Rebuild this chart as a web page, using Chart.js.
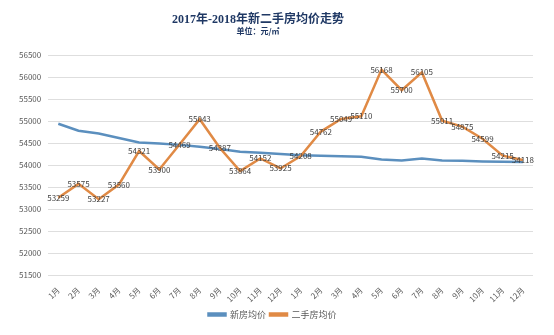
<!DOCTYPE html>
<html lang="zh">
<head>
<meta charset="UTF-8">
<title>2017年-2018年新二手房均价走势</title>
<script src="https://cdn.jsdelivr.net/npm/chart.js"></script>
<style>
    html, body {
        margin: 0;
        padding: 0;
        background: #ffffff;
    }
    .wrap {
        position: relative;
        width: 554px;
        height: 335px;
    }
    .title {
        position: absolute;
        left: 0;
        width: 516px;
        text-align: center;
        color: #1f3864;
        font-weight: bold;
    }
    .main-title {
        top: 9px;
        font-size: 12px;
        font-family: "Liberation Serif", "Noto Sans CJK SC", serif;
    }
    .sub-title {
        top: 25px;
        font-size: 8px;
        font-family: "Noto Sans CJK SC", sans-serif;
    }
    canvas {
        position: absolute;
        left: 0;
        top: 0;
    }
</style>
</head>
<body>
<div class="wrap">
    <canvas id="priceChart" width="554" height="335"></canvas>
    <div class="title main-title">2017年-2018年新二手房均价走势</div>
    <div class="title sub-title">单位：元/㎡</div>
</div>

<script>
// months, 2017 then 2018
const months = ['1月', '2月', '3月', '4月', '5月', '6月', '7月', '8月', '9月', '10月', '11月', '12月',
                '1月', '2月', '3月', '4月', '5月', '6月', '7月', '8月', '9月', '10月', '11月', '12月'];

// 新房均价 (no labels in the picture)
const newHomePrice = [54940, 54780, 54720, 54615, 54515, 54490, 54460, 54415, 54365, 54305, 54280, 54255,
                      54222, 54213, 54200, 54190, 54130, 54107, 54153, 54107, 54100, 54085, 54075, 54069];

// 二手房均价
const resalePrice = [53259, 53575, 53227, 53560, 54321, 53900, 54469, 55043, 54387, 53864, 54152, 53925,
                     54208, 54762, 55049, 55110, 56168, 55700, 56105, 55011, 54875, 54599, 54215, 54118];

const yMin = 51500;
const yMax = 56500;
const yStep = 500;

const labelFont = '"Noto Sans CJK SC", "Liberation Sans", sans-serif';

// draw value labels centred on the resale points
const pointLabels = {
    id: 'pointLabels',
    afterDatasetsDraw(chart) {
        const ctx = chart.ctx;
        chart.data.datasets.forEach((ds, i) => {
            if (!ds.showValues) return;
            const meta = chart.getDatasetMeta(i);
            ctx.save();
            ctx.font = '8px ' + labelFont;
            ctx.fillStyle = '#404040';
            ctx.textAlign = 'center';
            ctx.textBaseline = 'middle';
            meta.data.forEach((pt, j) => {
                ctx.fillText(ds.data[j], pt.x, pt.y);
            });
            ctx.restore();
        });
    }
};

const ctx = document.getElementById('priceChart').getContext('2d');
new Chart(ctx, {
    type: 'line',
    data: {
        labels: months,
        datasets: [{
            label: '新房均价',
            data: newHomePrice,
            borderColor: '#5b8fbe',
            backgroundColor: '#5b8fbe',
            borderWidth: 2.5,
            pointRadius: 0,
            tension: 0,
            order: 1
        }, {
            label: '二手房均价',
            data: resalePrice,
            borderColor: '#e08a45',
            backgroundColor: '#e08a45',
            borderWidth: 2.5,
            pointRadius: 0,
            tension: 0,
            showValues: true,
            order: 0
        }]
    },
    options: {
        responsive: false,
        animation: false,
        layout: {
            padding: { top: 55, left: 12, right: 21, bottom: 6 }
        },
        plugins: {
            title: { display: false },
            tooltip: { enabled: false },
            legend: {
                position: 'bottom',
                labels: {
                    boxWidth: 17,
                    boxHeight: 2,
                    padding: 4,
                    color: '#595959',
                    font: { family: labelFont, size: 9 },
                    sort: (a, b) => a.datasetIndex - b.datasetIndex
                }
            }
        },
        scales: {
            x: {
                offset: true,
                grid: { display: false },
                border: { display: false },
                ticks: {
                    autoSkip: false,
                    minRotation: 45,
                    maxRotation: 45,
                    color: '#595959',
                    padding: 2,
                    font: { family: labelFont, size: 8 }
                }
            },
            y: {
                min: yMin,
                max: yMax,
                grid: { color: '#dedede', drawTicks: false },
                border: { display: false },
                ticks: {
                    stepSize: yStep,
                    padding: 7,
                    color: '#595959',
                    font: { family: labelFont, size: 8 },
                    callback: v => String(v)
                }
            }
        }
    },
    plugins: [pointLabels]
});
</script>
</body>
</html>
